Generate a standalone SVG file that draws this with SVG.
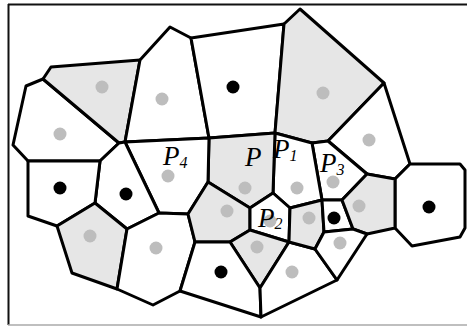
<svg xmlns="http://www.w3.org/2000/svg" width="467" height="326" viewBox="0 0 467 326">
<style>
.c{stroke:#000;stroke-width:3;stroke-linejoin:round}
.w{fill:#fff}
.s{fill:#e6e6e6}
.gd{fill:#bdbdbd}
.bd{fill:#000}
.lb{font-family:"Liberation Serif","Times New Roman",serif;font-style:italic;font-size:27px;fill:#000}
.sb{font-size:16px}
</style>
<rect x="0" y="0" width="467" height="326" fill="#fff"/>
<g id="frame">
<line x1="8" y1="4.5" x2="467" y2="4.5" stroke="#111" stroke-width="2"/>
<line x1="8.5" y1="4" x2="8.5" y2="325" stroke="#111" stroke-width="2"/>
<line x1="8" y1="325" x2="467" y2="325" stroke="#aaa" stroke-width="1.5"/>
</g>
<g id="connectors">
<g id="cell-left"><polygon class="c w" points="43,79 26,86 13,145 28,161 100,161 119,143"/><circle class="gd" cx="60" cy="134" r="6.5"/></g>
<g id="cell-tl"><polygon class="c s" points="43,79 51,67 140,60 125,142 119,143"/><circle class="gd" cx="102" cy="87" r="6.5"/></g>
<g id="cell-t1"><polygon class="c w" points="140,60 170,27 191,38 209,138 125,142"/><circle class="gd" cx="162" cy="99" r="6.5"/></g>
<g id="cell-t2"><polygon class="c w" points="191,38 284,24 275,133 209,138"/><circle class="bd" cx="233" cy="87" r="6.5"/></g>
<g id="cell-t3"><polygon class="c s" points="284,24 300,9 384,83 328,141 312,143 275,133"/><circle class="gd" cx="323" cy="93" r="6.5"/></g>
<g id="cell-r1"><polygon class="c w" points="328,141 384,83 410,164 395,179 367,174"/><circle class="gd" cx="369" cy="140" r="6.5"/></g>
<g id="cell-hex"><polygon class="c w" points="395,179 410,164 460,164 465,170 465,228 460,237 412,246 395,228"/><circle class="bd" cx="429" cy="207" r="6.5"/></g>
<g id="cell-P3"><polygon class="c w" points="312,143 328,141 367,174 342,200 322,200"/><circle class="gd" cx="333" cy="182" r="6.5"/></g>
<g id="cell-P1"><polygon class="c w" points="275,133 312,143 322,200 290,208 273,193"/><circle class="gd" cx="297" cy="188" r="6.5"/></g>
<g id="cell-P"><polygon class="c s" points="209,138 275,133 273,193 250,208 208,182"/><circle class="gd" cx="245" cy="188" r="6.5"/></g>
<g id="cell-P4"><polygon class="c w" points="125,142 209,138 208,182 188,214 159,213"/><circle class="gd" cx="168" cy="176" r="6.5"/></g>
<g id="cell-b2"><polygon class="c w" points="100,161 119,143 125,142 159,213 127,229 95,203"/><circle class="bd" cx="126" cy="194" r="6.5"/></g>
<g id="cell-b1"><polygon class="c w" points="28,161 100,161 95,203 57,226 28,216"/><circle class="bd" cx="60" cy="188" r="6.5"/></g>
<g id="cell-g1"><polygon class="c s" points="57,226 95,203 127,229 117,289 72,273"/><circle class="gd" cx="90" cy="236" r="6.5"/></g>
<g id="cell-w1"><polygon class="c w" points="127,229 159,213 188,214 195,242 180,291 153,305 117,289"/><circle class="gd" cx="156" cy="248" r="6.5"/></g>
<g id="cell-g2"><polygon class="c s" points="208,182 250,208 250,230 230,242 195,242 188,214"/><circle class="gd" cx="227" cy="211" r="6.5"/></g>
<g id="cell-P2"><polygon class="c w" points="250,208 273,193 290,208 289,242 250,230"/><circle class="gd" cx="270" cy="221" r="6.5"/></g>
<g id="cell-g3"><polygon class="c s" points="230,242 250,230 289,242 260,288"/><circle class="gd" cx="257" cy="247" r="6.5"/></g>
<g id="cell-b3"><polygon class="c w" points="195,242 230,242 260,288 261,317 180,291"/><circle class="bd" cx="221" cy="272" r="6.5"/></g>
<g id="cell-w2"><polygon class="c w" points="289,242 315,249 337,280 261,317 260,288"/><circle class="gd" cx="292" cy="272" r="6.5"/></g>
<g id="cell-g4"><polygon class="c s" points="290,208 322,200 324,232 315,249 289,242"/><circle class="gd" cx="309" cy="218" r="6.5"/></g>
<g id="cell-sq"><polygon class="c w" points="322,200 342,200 353,229 324,232"/><circle class="bd" cx="334" cy="218" r="6.5"/></g>
<g id="cell-g5"><polygon class="c s" points="342,200 367,174 395,179 395,228 367,234 353,229"/><circle class="gd" cx="359" cy="206" r="6.5"/></g>
<g id="cell-w3"><polygon class="c w" points="324,232 353,229 367,234 337,280 315,249"/><circle class="gd" cx="340" cy="243" r="6.5"/></g>
</g>
<g id="labels">
<text class="lb" x="163" y="165">P<tspan class="sb" dy="3">4</tspan></text>
<text class="lb" x="245" y="166">P</text>
<text class="lb" x="273" y="158">P<tspan class="sb" dy="3">1</tspan></text>
<text class="lb" x="320" y="172">P<tspan class="sb" dy="3">3</tspan></text>
<text class="lb" x="258" y="227">P<tspan class="sb" dy="2">2</tspan></text>
</g>
</svg>
